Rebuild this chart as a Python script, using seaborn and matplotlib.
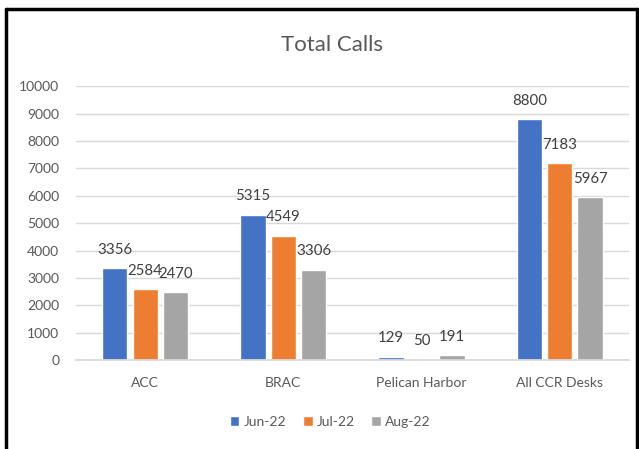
import pandas as pd
import numpy as np
import matplotlib.pyplot as plt
import seaborn as sns
from matplotlib.lines import Line2D

sns.set_theme(style='white')
plt.rcParams['font.family'] = ['Lato', 'DejaVu Sans']

categories = ['ACC', 'BRAC', 'Pelican Harbor', 'All CCR Desks']
months = ['Jun-22', 'Jul-22', 'Aug-22']
jun = [3356, 5315, 129, 8800]
jul = [2584, 4549, 50, 7183]
aug = [2470, 3306, 191, 5967]
colors = ['#4472C4', '#ED7D31', '#A5A5A5']

df = pd.DataFrame({'site': categories * 3,
                   'month': np.repeat(months, 4),
                   'calls': jun + jul + aug})

fig = plt.figure(figsize=(6.39, 4.49), dpi=100)
ax = fig.add_axes([0.119, 0.198, 0.865, 0.61])

sns.barplot(data=df, x='site', y='calls', hue='month', palette=colors,
            width=0.66, gap=0.17, ax=ax, saturation=1)

for c in ax.containers:
    ax.bar_label(c, padding=8, fontsize=10.8, color='#404040')

ax.set_ylim(0, 10000)
ax.set_yticks(range(0, 10001, 1000))
ax.yaxis.grid(True, color='#D9D9D9', linewidth=1)
ax.set_axisbelow(True)
for s in ['top', 'right', 'left']:
    ax.spines[s].set_visible(False)
ax.spines['bottom'].set_color('#D9D9D9')
ax.tick_params(axis='both', colors='#595959', labelsize=10, length=0)
ax.tick_params(axis='y', pad=12)
ax.tick_params(axis='x', pad=12)
ax.set_xlabel('')
ax.set_ylabel('')
ax.set_xlim(-0.5, 3.5)

fig.text(0.52, 0.9, 'Total Calls', ha='center', va='center', fontsize=16, color='#595959')

ax.legend(loc='center', bbox_to_anchor=(0.46, -0.226), ncol=3, frameon=False,
          handlelength=0.7, handleheight=0.7, handletextpad=0.3, columnspacing=1.2,
          fontsize=10, labelcolor='#595959')

# frame around the chart
fig.add_artist(Line2D([0.01, 0.01], [0, 0.98], color='black', lw=2.5))
fig.add_artist(Line2D([0.01, 0.997], [0.98, 0.98], color='black', lw=2.5))
fig.add_artist(Line2D([0.997, 0.997], [0, 0.98], color='black', lw=2.5))

plt.savefig('out.png', dpi=100)
